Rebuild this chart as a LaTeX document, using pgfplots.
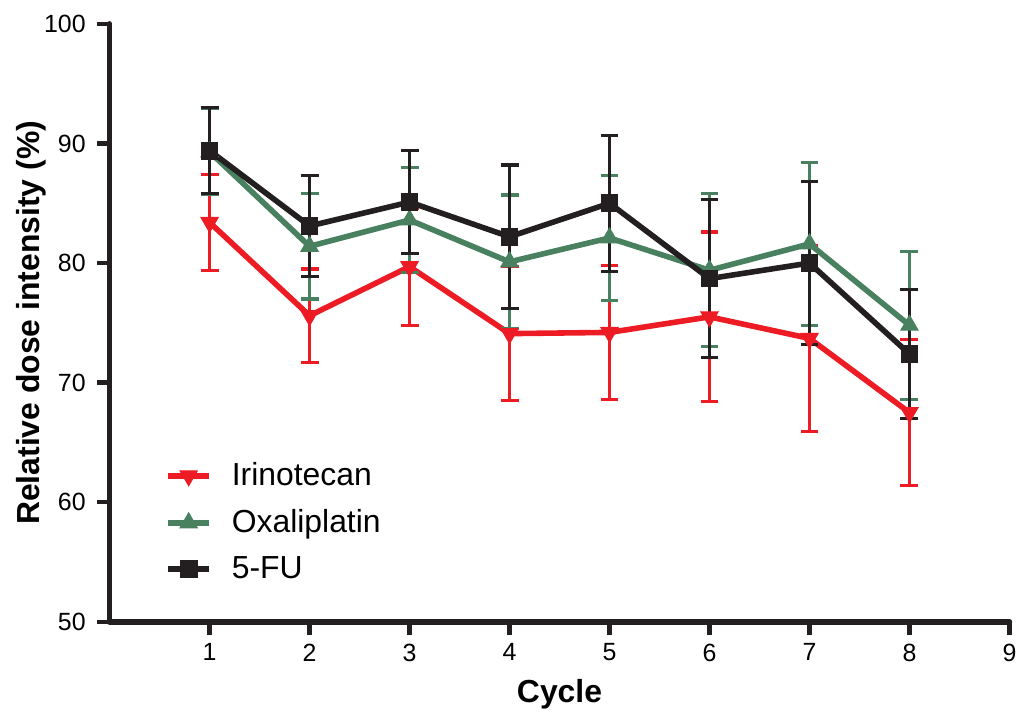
\documentclass[border=0pt]{standalone}
\usepackage{fontspec}
\setmainfont{Liberation Sans}
\usepackage{pgfplots}
\pgfplotsset{compat=1.18}
\definecolor{irired}{RGB}{237,28,36}
\definecolor{oxgreen}{RGB}{72,128,96}
\definecolor{fublack}{RGB}{35,31,32}

% cycle, mean, sd
\pgfplotstableread{
x y e
1 83.4 4.0
2 75.6 3.9
3 79.7 4.9
4 74.1 5.6
5 74.2 5.6
6 75.5 7.1
7 73.7 7.8
8 67.5 6.1
}\irinotecan
\pgfplotstableread{
x y e
1 89.3 3.6
2 81.4 4.4
3 83.6 4.4
4 80.1 5.6
5 82.1 5.2
6 79.4 6.4
7 81.6 6.8
8 74.8 6.2
}\oxaliplatin
\pgfplotstableread{
x y e
1 89.4 3.6
2 83.1 4.2
3 85.1 4.3
4 82.2 6.0
5 85.0 5.7
6 78.7 6.6
7 80.0 6.8
8 72.4 5.4
}\fluorouracil

\begin{document}
\begin{tikzpicture}
\begin{axis}[
  name=ax,
  scale only axis, width=451.5pt, height=300pt,
  xmin=0, xmax=9, ymin=50, ymax=100,
  axis lines=left,
  axis line style={-, line width=2.8pt, color=fublack, line cap=round},
  xtick={1,...,9}, ytick={50,60,...,100},
  tick align=outside, major tick length=6.5pt,
  tick style={line width=2.2pt, color=fublack},
  /pgf/number format/assume math mode=true,
  ticklabel style={font=\fontsize{12.5}{15}\selectfont},
  yticklabel style={xshift=-2pt},
  xticklabel style={yshift=-1pt},
  xlabel={\bfseries Cycle},
  ylabel={\bfseries Relative dose intensity (\%)},
  label style={font=\fontsize{16}{19}\selectfont},
  xlabel style={yshift=-2pt},
  ylabel style={yshift=-8pt},
  clip=false,
  legend style={draw=none, fill=none, at={(0.055,0.28)}, anchor=north west,
    font=\fontsize{16}{19}\selectfont, row sep=6.5pt},
  legend cell align=left,
  legend image code/.code={
    \draw[mark repeat=2, mark phase=2] plot coordinates {(0cm,0cm) (0.36cm,0cm) (0.72cm,0cm)};
    \path (0.72cm+8pt,0cm);
  },
  every axis plot/.append style={line width=2.8pt},
  error bars/error bar style={line width=1.6pt},
  error bars/error mark options={rotate=90, mark size=4.5pt, line width=1.6pt},
]
\addplot[color=irired, mark=triangle*, mark options={rotate=180, mark size=5pt, line width=0.5pt},
  error bars/.cd, y dir=both, y explicit]
  table[x=x, y=y, y error=e] {\irinotecan};
\addlegendentry{Irinotecan}
\addplot[color=oxgreen, mark=triangle*, mark options={mark size=5pt, line width=0.5pt},
  error bars/.cd, y dir=both, y explicit]
  table[x=x, y=y, y error=e] {\oxaliplatin};
\addlegendentry{Oxaliplatin}
\addplot[color=fublack, mark=square*, mark options={mark size=4.2pt, line width=0.5pt},
  error bars/.cd, y dir=both, y explicit]
  table[x=x, y=y, y error=e] {\fluorouracil};
\addlegendentry{5-FU}
\end{axis}
\path ([yshift=12pt]ax.north) ([yshift=-44pt]ax.south) ([xshift=-55pt]ax.west) ([xshift=5pt]ax.east);
\end{tikzpicture}
\end{document}
